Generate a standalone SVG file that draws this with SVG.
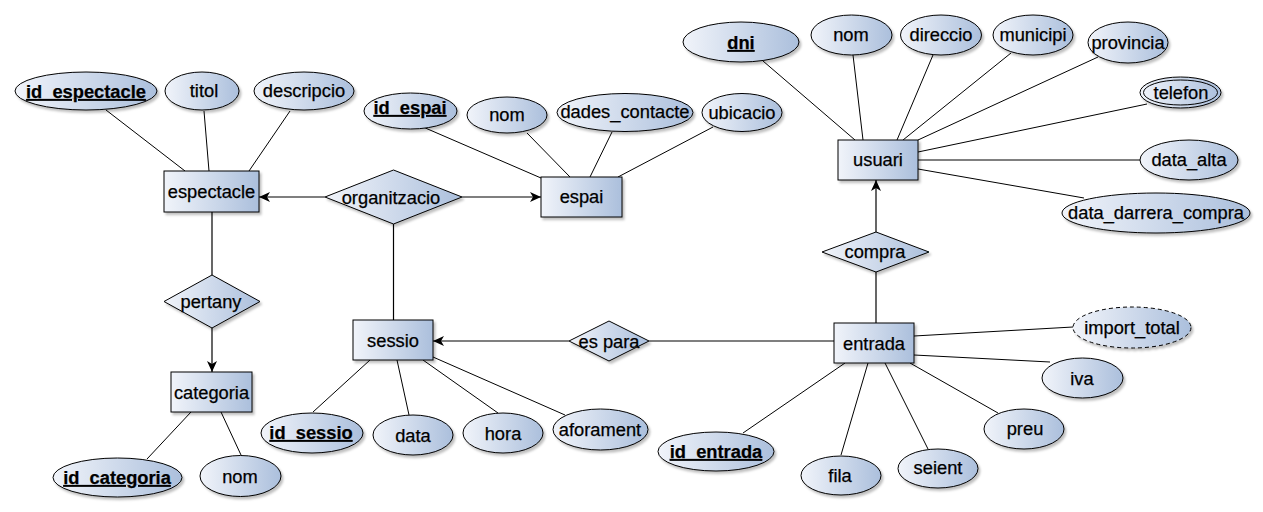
<svg xmlns="http://www.w3.org/2000/svg" width="1263" height="512" viewBox="0 0 1263 512">
<defs>
<linearGradient id="g" x1="0" y1="0" x2="1" y2="0">
<stop offset="0" stop-color="#f1f4fa"/>
<stop offset="1" stop-color="#abbfdc"/>
</linearGradient>
<filter id="sh" x="-20%" y="-20%" width="140%" height="150%">
<feDropShadow dx="2" dy="2.5" stdDeviation="1.2" flood-color="#000" flood-opacity="0.25"/>
</filter>
<marker id="arr" markerUnits="userSpaceOnUse" markerWidth="12" markerHeight="10" refX="11" refY="5" orient="auto">
<path d="M0,0 L11,5 L0,10 L3,5 Z" fill="#000"/>
</marker>
</defs>
<style>
.s{fill:url(#g);stroke:#000;stroke-width:1;filter:url(#sh)}
.d{fill:none;stroke:#000;stroke-width:1}
.t{font-family:"Liberation Sans",Arial,sans-serif;font-size:18.3px;fill:#000;stroke:#000;stroke-width:0.25px;text-anchor:middle}
.k{font-weight:bold;text-decoration:underline}
.c{fill:none;stroke:#000;stroke-width:1}
.a{fill:none;stroke:#000;stroke-width:1.2}
</style>
<rect width="1263" height="512" fill="#fff"/>
<g id="connectors">
<path class="c" d="M106,110 L185,171"/>
<path class="c" d="M204,111 L209,171"/>
<path class="c" d="M290,111 L249,171"/>
<path class="c" d="M423,127 L541,178"/>
<path class="c" d="M527,133 L570,177"/>
<path class="c" d="M612,132 L590,177"/>
<path class="c" d="M713,127 L618,177"/>
<path class="c" d="M763,61 L855,140"/>
<path class="c" d="M853,55 L863,140"/>
<path class="c" d="M933,55 L897,140"/>
<path class="c" d="M1011,53 L903,140"/>
<path class="c" d="M1098,57 L918,140"/>
<path class="c" d="M1147,104 L918,152"/>
<path class="c" d="M918,160 L1140,160"/>
<path class="c" d="M918,169 L1084,198"/>
<path class="c" d="M914,336 L1073,327"/>
<path class="c" d="M914,355 L1050,362"/>
<path class="c" d="M910,363 L998,413"/>
<path class="c" d="M885,363 L928,449"/>
<path class="c" d="M868,363 L841,455"/>
<path class="c" d="M845,363 L743,433"/>
<path class="c" d="M370,360 L313,412"/>
<path class="c" d="M397,360 L409,415"/>
<path class="c" d="M423,360 L498,413"/>
<path class="c" d="M433,357 L565,415"/>
<path class="c" d="M191,412 L147,459"/>
<path class="c" d="M221,412 L241,455"/>
<path class="a" d="M325,197 L259,197" marker-end="url(#arr)"/>
<path class="a" d="M462,197 L541,197" marker-end="url(#arr)"/>
<path class="a" d="M393.5,224 L393.5,320"/>
<path class="a" d="M212,212 L212,275"/>
<path class="a" d="M212,328 L212,372" marker-end="url(#arr)"/>
<path class="a" d="M876,232 L876,180" marker-end="url(#arr)"/>
<path class="a" d="M876,272 L876,323"/>
<path class="a" d="M834,341 L649,341"/>
<path class="a" d="M569,341 L433,341" marker-end="url(#arr)"/>
</g>
<g id="espectacle"><rect class="s" x="164" y="171" width="95" height="41"/><text class="t" x="211.5" y="198">espectacle</text></g>
<g id="espai"><rect class="s" x="541" y="177" width="81" height="40"/><text class="t" x="581.5" y="203">espai</text></g>
<g id="usuari"><rect class="s" x="838" y="140" width="80" height="40"/><text class="t" x="878" y="166">usuari</text></g>
<g id="sessio"><rect class="s" x="353" y="320" width="80" height="40"/><text class="t" x="393" y="347">sessio</text></g>
<g id="entrada"><rect class="s" x="834" y="323" width="80" height="40"/><text class="t" x="874" y="350">entrada</text></g>
<g id="categoria"><rect class="s" x="171" y="372" width="81" height="40"/><text class="t" x="211.5" y="399">categoria</text></g>
<g id="organitzacio"><polygon class="s" points="325,197 393.5,170 462,197 393.5,224"/><text class="t" x="391" y="204">organitzacio</text></g>
<g id="pertany"><polygon class="s" points="164,301.5 212,275 260,301.5 212,328"/><text class="t" x="211" y="308">pertany</text></g>
<g id="es_para"><polygon class="s" points="569,341 609,321 649,341 609,361"/><text class="t" x="609" y="348">es para</text></g>
<g id="compra"><polygon class="s" points="822,252 876,232 929,252 876,272"/><text class="t" x="875" y="258">compra</text></g>
<g id="id_espectacle"><ellipse class="s" cx="86" cy="91" rx="71" ry="19"/><text class="t k" x="86" y="98">id_espectacle</text></g>
<g id="titol"><ellipse class="s" cx="202" cy="91" rx="37" ry="19"/><text class="t" x="204" y="97">titol</text></g>
<g id="descripcio"><ellipse class="s" cx="304" cy="91" rx="50" ry="19"/><text class="t" x="304" y="97">descripcio</text></g>
<g id="id_espai"><ellipse class="s" cx="410.5" cy="111" rx="46.5" ry="18"/><text class="t k" x="410" y="114">id_espai</text></g>
<g id="nom_espai"><ellipse class="s" cx="507" cy="115" rx="40" ry="18"/><text class="t" x="507" y="121">nom</text></g>
<g id="dades_contacte"><ellipse class="s" cx="625" cy="112.5" rx="68" ry="19"/><text class="t" x="625" y="118">dades_contacte</text></g>
<g id="ubicacio"><ellipse class="s" cx="742" cy="112.5" rx="40" ry="19"/><text class="t" x="742" y="119">ubicacio</text></g>
<g id="dni"><ellipse class="s" cx="741" cy="42" rx="58" ry="20"/><text class="t k" x="741" y="49">dni</text></g>
<g id="nom_usuari"><ellipse class="s" cx="851.5" cy="35" rx="40.5" ry="20"/><text class="t" x="851" y="41">nom</text></g>
<g id="direccio"><ellipse class="s" cx="941" cy="35" rx="40.5" ry="20"/><text class="t" x="941" y="41">direccio</text></g>
<g id="municipi"><ellipse class="s" cx="1033" cy="35" rx="40" ry="20"/><text class="t" x="1033" y="41">municipi</text></g>
<g id="provincia"><ellipse class="s" cx="1128" cy="42.5" rx="40" ry="20.5"/><text class="t" x="1128" y="49">provincia</text></g>
<g id="telefon"><ellipse class="s" cx="1180.5" cy="92.5" rx="40.5" ry="15.5"/><ellipse class="d" cx="1180.5" cy="92.5" rx="37" ry="12.5"/><text class="t" x="1181" y="99">telefon</text></g>
<g id="data_alta"><ellipse class="s" cx="1189" cy="160" rx="49" ry="20"/><text class="t" x="1189" y="166">data_alta</text></g>
<g id="data_darrera_compra"><ellipse class="s" cx="1156" cy="213" rx="94" ry="20"/><text class="t" x="1156" y="219">data_darrera_compra</text></g>
<g id="import_total"><ellipse class="s" cx="1132" cy="327.5" rx="59" ry="20.5" stroke-dasharray="4 3"/><text class="t" x="1132" y="334">import_total</text></g>
<g id="iva"><ellipse class="s" cx="1082.5" cy="378" rx="40.5" ry="20"/><text class="t" x="1082" y="385">iva</text></g>
<g id="preu"><ellipse class="s" cx="1024" cy="429" rx="40" ry="20"/><text class="t" x="1025" y="435">preu</text></g>
<g id="seient"><ellipse class="s" cx="938" cy="468.5" rx="40" ry="19.5"/><text class="t" x="938" y="474">seient</text></g>
<g id="fila"><ellipse class="s" cx="841" cy="475.5" rx="40" ry="19.5"/><text class="t" x="840" y="482">fila</text></g>
<g id="id_entrada"><ellipse class="s" cx="716" cy="451.5" rx="58" ry="19.5"/><text class="t k" x="716" y="458">id_entrada</text></g>
<g id="id_sessio"><ellipse class="s" cx="312" cy="433" rx="51" ry="20"/><text class="t k" x="311" y="439">id_sessio</text></g>
<g id="data"><ellipse class="s" cx="413" cy="435" rx="40" ry="20"/><text class="t" x="413" y="442">data</text></g>
<g id="hora"><ellipse class="s" cx="503" cy="433" rx="40" ry="20"/><text class="t" x="503" y="440">hora</text></g>
<g id="aforament"><ellipse class="s" cx="600.5" cy="429.5" rx="47.5" ry="20.5"/><text class="t" x="600" y="436">aforament</text></g>
<g id="id_categoria"><ellipse class="s" cx="117.5" cy="477.5" rx="64.5" ry="19.5"/><text class="t k" x="117" y="484">id_categoria</text></g>
<g id="nom_categoria"><ellipse class="s" cx="240.5" cy="476" rx="40.5" ry="20.5"/><text class="t" x="240" y="483">nom</text></g>
</svg>
